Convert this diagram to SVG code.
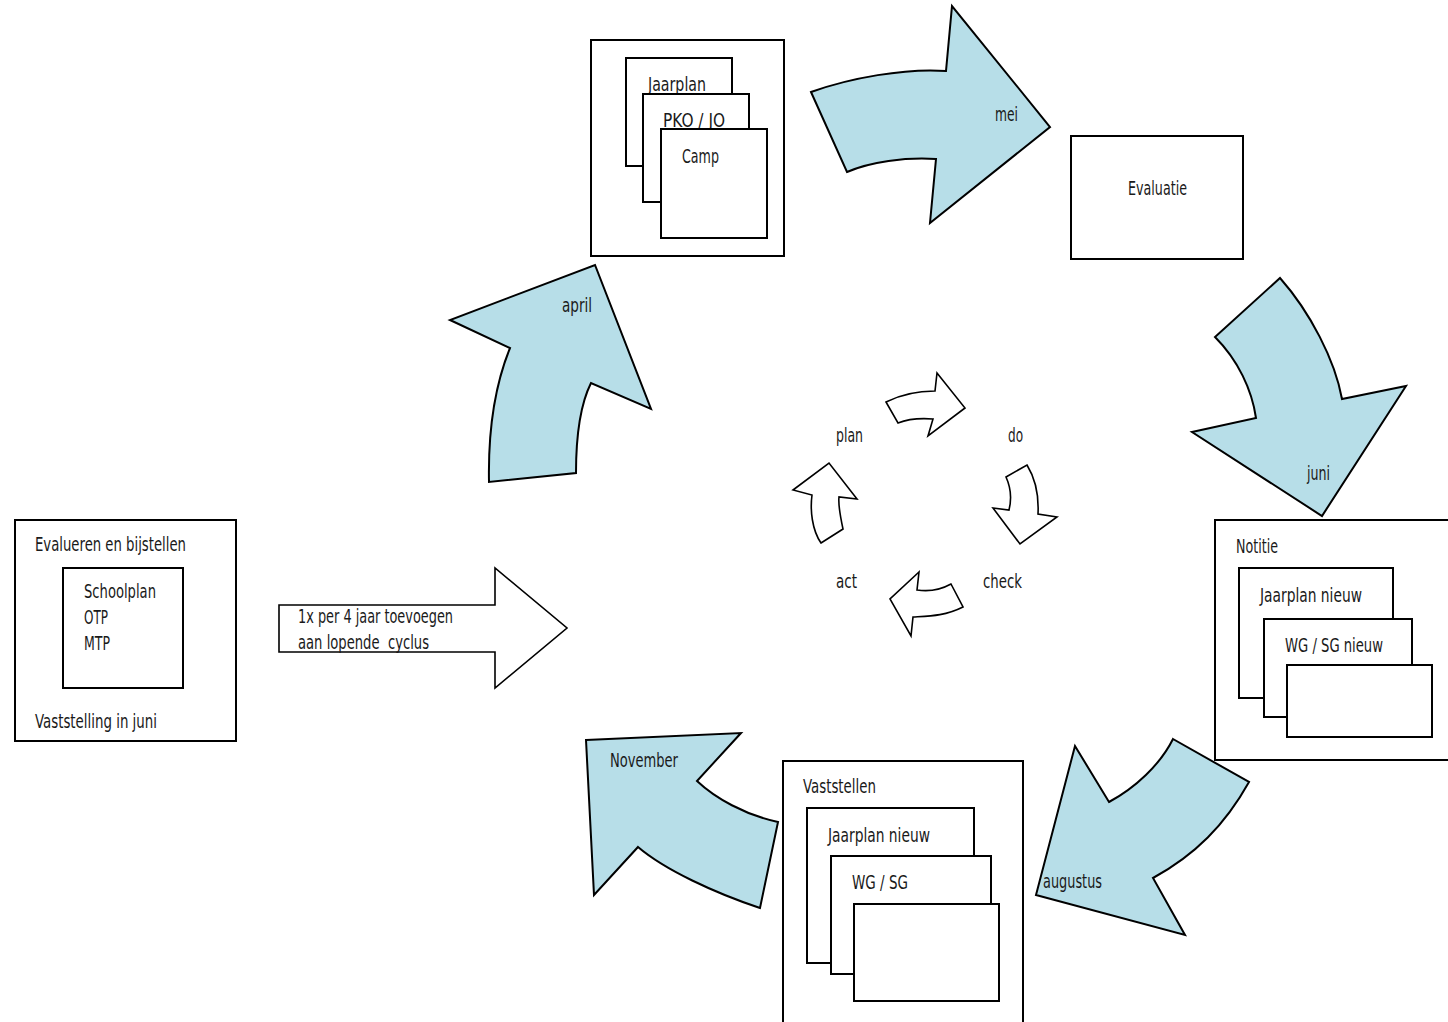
<svg xmlns="http://www.w3.org/2000/svg" width="1448" height="1022" viewBox="0 0 1448 1022">
<style>
  .bg{fill:#ffffff}
  .box{fill:#ffffff;stroke:#000000;stroke-width:2}
  .blue{fill:#B7DEE8;stroke:#000000;stroke-width:2;stroke-linejoin:miter}
  .wh{fill:#ffffff;stroke:#000000;stroke-width:1.6;stroke-linejoin:miter}
  text{font-family:"DejaVu Sans Condensed","Liberation Sans Narrow","Liberation Sans",sans-serif;font-size:19px;fill:#1a1a1a}
</style>
<rect class="bg" x="0" y="0" width="1448" height="1022"/>

<g id="connectors">
  <path id="arrow-april" class="blue" d="M489,482 C488,430 495,385 510,348 L450,320 L595,265 L651,409 L591,383 C580,405 576,440 576,473 Z"/>
  <path id="arrow-mei" class="blue" d="M811,92 C850,78 905,68 946,71 L952,6 L1050,127 L930,223 L936,159 C905,157 870,162 847,172 Z"/>
  <path id="arrow-juni" class="blue" d="M1280,278 C1310,312 1335,360 1342,399 L1406,386 L1322,516 L1192,432 L1256,418 C1252,390 1238,360 1215,337 Z"/>
  <path id="arrow-augustus" class="blue" d="M1173,739 L1249,782 C1225,825 1195,855 1153,878 L1185,935 L1036,895 L1075,746 L1109,802 C1135,788 1160,765 1173,739 Z"/>
  <path id="arrow-november" class="blue" d="M586,740 L741,733 L697,781 C715,798 745,815 778,822 L760,908 C715,893 665,870 638,847 L594,895 Z"/>
  <path id="arrow-input" class="wh" d="M279,605 L495,605 L495,568 L567,628 L495,688 L495,652 L279,652 Z"/>
  <path id="arrow-plan-do" class="wh" d="M886,402 C900,395 915,391 935,391 L937,373 L965,408 L928,436 L933,419 C920,418 908,419 898,423 Z"/>
  <path id="arrow-do-check" class="wh" d="M1006,477 L1027,465 C1035,478 1039,495 1038,514 L1057,517 L1020,544 L993,508 L1009,510 C1012,498 1011,488 1006,477 Z"/>
  <path id="arrow-check-act" class="wh" d="M951,584 L963,607 C945,616 930,616 913,617 L911,636 L890,599 L919,572 L917,590 C930,592 942,589 951,584 Z"/>
  <path id="arrow-act-plan" class="wh" d="M821,543 L843,529 C840,515 838,505 839,497 L857,499 L829,463 L793,490 L812,495 C810,510 812,530 821,543 Z"/>
</g>

<g id="node-jaarplan">
  <rect class="box" x="591" y="40" width="193" height="216"/>
  <rect class="box" x="626" y="58" width="106" height="108"/>
  <text x="648" y="91" textLength="58" lengthAdjust="spacingAndGlyphs">Jaarplan</text>
  <rect class="box" x="643" y="94" width="106" height="108"/>
  <text x="663" y="127" textLength="62" lengthAdjust="spacingAndGlyphs">PKO / JO</text>
  <rect class="box" x="661" y="129" width="106" height="109"/>
  <text x="682" y="163" textLength="37" lengthAdjust="spacingAndGlyphs">Camp</text>
</g>

<g id="node-evaluatie">
  <rect class="box" x="1071" y="136" width="172" height="123"/>
  <text x="1128" y="195" textLength="59" lengthAdjust="spacingAndGlyphs">Evaluatie</text>
</g>

<g id="node-notitie">
  <rect class="box" x="1215" y="520" width="240" height="240"/>
  <text x="1236" y="553" textLength="42" lengthAdjust="spacingAndGlyphs">Notitie</text>
  <rect class="box" x="1239" y="568" width="154" height="130"/>
  <text x="1260" y="602" textLength="102" lengthAdjust="spacingAndGlyphs">Jaarplan nieuw</text>
  <rect class="box" x="1264" y="619" width="148" height="98"/>
  <text x="1285" y="652" textLength="98" lengthAdjust="spacingAndGlyphs">WG / SG nieuw</text>
  <rect class="box" x="1287" y="665" width="145" height="72"/>
</g>

<g id="node-vaststellen">
  <rect class="box" x="783" y="761" width="240" height="270"/>
  <text x="803" y="793" textLength="73" lengthAdjust="spacingAndGlyphs">Vaststellen</text>
  <rect class="box" x="807" y="808" width="167" height="155"/>
  <text x="828" y="842" textLength="102" lengthAdjust="spacingAndGlyphs">Jaarplan nieuw</text>
  <rect class="box" x="831" y="856" width="160" height="118"/>
  <text x="852" y="889" textLength="56" lengthAdjust="spacingAndGlyphs">WG / SG</text>
  <rect class="box" x="854" y="904" width="145" height="97"/>
</g>

<g id="node-schoolplan">
  <rect class="box" x="15" y="520" width="221" height="221"/>
  <text x="35" y="551" textLength="151" lengthAdjust="spacingAndGlyphs">Evalueren en bijstellen</text>
  <rect class="box" x="63" y="568" width="120" height="120"/>
  <text x="84" y="598" textLength="72" lengthAdjust="spacingAndGlyphs">Schoolplan</text>
  <text x="84" y="624" textLength="24" lengthAdjust="spacingAndGlyphs">OTP</text>
  <text x="84" y="650" textLength="26" lengthAdjust="spacingAndGlyphs">MTP</text>
  <text x="35" y="728" textLength="122" lengthAdjust="spacingAndGlyphs">Vaststelling in juni</text>
</g>

<g id="labels">
  <text x="298" y="623" textLength="155" lengthAdjust="spacingAndGlyphs">1x per 4 jaar toevoegen</text>
  <text x="298" y="649" textLength="131" lengthAdjust="spacingAndGlyphs" xml:space="preserve">aan lopende  cyclus</text>
  <text x="562" y="312" textLength="30" lengthAdjust="spacingAndGlyphs">april</text>
  <text x="995" y="121" textLength="23" lengthAdjust="spacingAndGlyphs">mei</text>
  <text x="1307" y="480" textLength="23" lengthAdjust="spacingAndGlyphs">juni</text>
  <text x="1043" y="888" textLength="59" lengthAdjust="spacingAndGlyphs">augustus</text>
  <text x="610" y="767" textLength="68" lengthAdjust="spacingAndGlyphs">November</text>
  <text x="836" y="442" textLength="27" lengthAdjust="spacingAndGlyphs">plan</text>
  <text x="1008" y="442" textLength="15" lengthAdjust="spacingAndGlyphs">do</text>
  <text x="983" y="588" textLength="39" lengthAdjust="spacingAndGlyphs">check</text>
  <text x="836" y="588" textLength="21" lengthAdjust="spacingAndGlyphs">act</text>
</g>
</svg>
